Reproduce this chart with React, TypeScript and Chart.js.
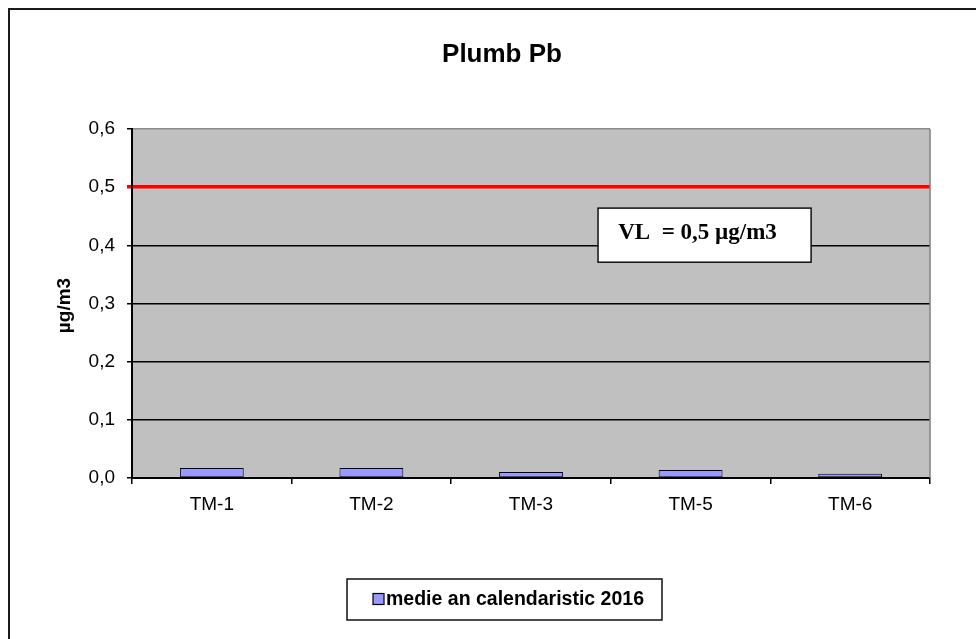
import { useEffect, useRef } from "react";
import { Chart, registerables } from "chart.js";

Chart.register(...registerables);

const categories = ["TM-1", "TM-2", "TM-3", "TM-5", "TM-6"];
const seriesLabel = "medie an calendaristic 2016";
const seriesValues = [0.017, 0.017, 0.0105, 0.0138, 0.0075];
const yTicks = [0, 0.1, 0.2, 0.3, 0.4, 0.5, 0.6];
const limitValue = 0.5;
const limitLabel = "VL  = 0,5 µg/m3";
const chartTitle = "Plumb Pb";
const yAxisTitle = "µg/m3";

const SANS = "'Liberation Sans', Arial, sans-serif";
const SERIF = "'Liberation Serif', 'Times New Roman', serif";
const BAR_FILL = "#9999FF";
const PLOT_BG = "#C0C0C0";

const isLimit = (v: number) => Math.abs(v - limitValue) < 1e-9;
const isTop = (v: number) => Math.abs(v - yTicks[yTicks.length - 1]) < 1e-9;

const decorPlugin = {
  id: "decor",
  beforeDraw(chart: any) {
    const { ctx, chartArea: a, width, height } = chart;
    ctx.save();
    ctx.fillStyle = "#ffffff";
    ctx.fillRect(0, 0, width, height);
    // outer frame
    ctx.strokeStyle = "#1a1a1a";
    ctx.lineWidth = 2;
    ctx.strokeRect(9, 9, width + 20, height + 20);
    // plot background
    ctx.fillStyle = PLOT_BG;
    ctx.fillRect(a.left, a.top, a.right - a.left, a.bottom - a.top);
    // title
    ctx.fillStyle = "#000";
    ctx.font = `bold 26px ${SANS}`;
    ctx.textAlign = "center";
    ctx.textBaseline = "alphabetic";
    ctx.fillText(chartTitle, 502, 62);
    // y axis title
    ctx.save();
    ctx.translate(65, (a.top + a.bottom) / 2 + 2);
    ctx.rotate(-Math.PI / 2);
    ctx.font = `bold 19px ${SANS}`;
    ctx.textBaseline = "middle";
    ctx.fillText(yAxisTitle, 0, 0);
    ctx.restore();
    ctx.restore();
  },
  afterDraw(chart: any) {
    const { ctx, chartArea: a } = chart;
    const yScale = chart.scales.y;
    ctx.save();
    // right plot border
    ctx.strokeStyle = "#808080";
    ctx.lineWidth = 1.5;
    ctx.beginPath();
    ctx.moveTo(a.right, a.top);
    ctx.lineTo(a.right, a.bottom);
    ctx.stroke();

    // VL annotation box
    const w = a.right - a.left;
    const bx1 = a.left + w * 0.584;
    const bx2 = a.left + w * 0.851;
    const by1 = yScale.getPixelForValue(0.464);
    const by2 = yScale.getPixelForValue(0.371);
    ctx.fillStyle = "#fff";
    ctx.fillRect(bx1, by1, bx2 - bx1, by2 - by1);
    ctx.strokeStyle = "#111";
    ctx.lineWidth = 1.5;
    ctx.strokeRect(bx1, by1, bx2 - bx1, by2 - by1);
    ctx.fillStyle = "#000";
    ctx.font = `bold 23px ${SERIF}`;
    ctx.textAlign = "center";
    ctx.textBaseline = "alphabetic";
    ctx.fillText(limitLabel, (bx1 + bx2) / 2 - 7, by1 + 31);

    // legend
    ctx.font = `bold 19.5px ${SANS}`;
    const tw = ctx.measureText(seriesLabel).width;
    const sq = 11;
    const boxW = 26 + sq + 2 + tw + 18;
    const cx = 504.5;
    const lx1 = cx - boxW / 2;
    const ly1 = a.bottom + 101;
    const lh = 41;
    ctx.fillStyle = "#fff";
    ctx.fillRect(lx1, ly1, boxW, lh);
    ctx.strokeStyle = "#111";
    ctx.lineWidth = 1.5;
    ctx.strokeRect(lx1, ly1, boxW, lh);
    ctx.fillStyle = BAR_FILL;
    ctx.fillRect(lx1 + 26, ly1 + 14.5, sq, sq);
    ctx.strokeStyle = "#000";
    ctx.lineWidth = 1.2;
    ctx.strokeRect(lx1 + 26, ly1 + 14.5, sq, sq);
    ctx.fillStyle = "#000";
    ctx.textAlign = "left";
    ctx.textBaseline = "middle";
    ctx.fillText(seriesLabel, lx1 + 26 + sq + 2, ly1 + lh / 2);
    ctx.restore();
  },
};

export default function App() {
  const ref = useRef<HTMLCanvasElement | null>(null);

  useEffect(() => {
    if (!ref.current) return;
    const chart = new Chart(ref.current, {
      type: "bar",
      data: {
        labels: categories,
        datasets: [
          {
            label: seriesLabel,
            data: seriesValues,
            backgroundColor: BAR_FILL,
            borderColor: "#000",
            borderWidth: 1,
            borderSkipped: false,
            barPercentage: 0.4,
            categoryPercentage: 1,
          },
        ],
      },
      options: {
        responsive: false,
        animation: false,
        devicePixelRatio: 1,
        layout: { padding: { left: 0, top: 129, right: 46, bottom: 116 } },
        plugins: {
          legend: { display: false },
          title: { display: false },
          tooltip: { enabled: false },
        },
        scales: {
          x: {
            offset: true,
            grid: {
              offset: true,
              drawOnChartArea: false,
              drawTicks: true,
              tickLength: 6,
              color: "#000",
              lineWidth: 1.5,
            },
            border: { display: true, color: "#000", width: 2 },
            ticks: {
              color: "#000",
              font: { family: SANS, size: 19 },
              padding: 9,
              maxRotation: 0,
            },
            afterFit: (s: any) => {
              s.height = 45;
            },
          },
          y: {
            min: 0,
            max: 0.6,
            afterBuildTicks: (s: any) => {
              s.ticks = yTicks.map((v) => ({ value: v }));
            },
            afterFit: (s: any) => {
              s.width = 132;
            },
            grid: {
              color: (c: any) =>
                isLimit(c.tick.value) ? "#FF0000" : isTop(c.tick.value) ? "#8a8a8a" : "#000",
              lineWidth: (c: any) => (isLimit(c.tick.value) ? 3.5 : 1.5),
              tickColor: (c: any) => (isLimit(c.tick.value) ? "#FF0000" : "#000"),
              tickLength: 5,
            },
            border: { display: true, color: "#000", width: 2 },
            ticks: {
              color: "#000",
              font: { family: SANS, size: 19 },
              padding: 12,
              callback: (v: any) => Number(v).toFixed(1).replace(".", ","),
            },
          },
        },
      },
      plugins: [decorPlugin],
    });
    return () => chart.destroy();
  }, []);

  return (
    <div style={{ position: "fixed", left: 0, top: 0, width: 976, height: 639 }}>
      <canvas ref={ref} width={976} height={639} style={{ width: 976, height: 639 }} />
    </div>
  );
}
